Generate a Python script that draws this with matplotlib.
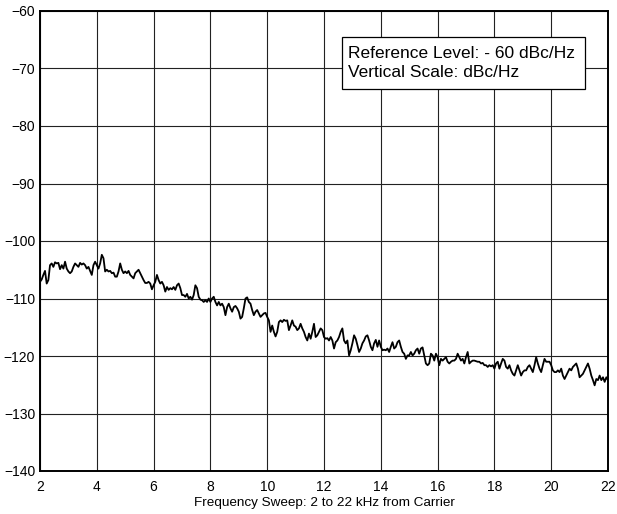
import numpy as np
import matplotlib
matplotlib.use("Agg")
import matplotlib.pyplot as plt
from matplotlib.patches import Rectangle

plt.rcParams['font.family'] = ['Liberation Sans', 'DejaVu Sans']

# Sweep range (kHz) and axis ticks
F_START, F_STOP = 2.0, 22.0
x_ticks = [2, 4, 6, 8, 10, 12, 14, 16, 18, 20, 22]
y_ticks = [-140, -130, -120, -110, -100, -90, -80, -70, -60]

level_seg1 = [
    -107.1, -106.7, -105.9, -105.2, -107.4, -106.8, -104.2, -103.9, -104.5, -103.7,
    -103.9, -103.8, -104.9, -104.2, -104.8, -103.6, -104.8, -105.3, -105.6, -105.3,
    -104.5, -103.9, -104.2, -104.5, -103.8, -104.1, -103.9, -104.2, -104.8, -104.5,
    -105.2, -105.9, -104.2, -103.6, -104.2, -104.8, -103.9, -102.4, -103.0, -105.3,
    -105.0, -105.3, -105.2, -105.6, -105.5, -106.2, -106.2, -105.3, -103.9, -105.0,
    -105.6, -105.3, -105.6, -105.2, -105.9, -106.2, -106.5, -105.6, -105.3, -105.0,
    -105.6, -106.2, -106.8, -107.3, -107.3, -107.1, -107.4, -108.4, -107.7, -107.1,
    -105.9, -106.8, -107.4, -107.1, -107.7, -108.8, -108.0, -108.5, -108.2, -108.4,
    -108.0, -108.5, -107.7, -107.4, -108.2, -109.4, -109.4, -109.7, -109.2, -110.0,
    -109.7, -110.2, -109.4, -107.7, -108.2, -109.7, -110.2, -110.3, -110.6, -110.3,
    -110.6, -110.0, -110.6, -110.0, -109.7, -110.6, -111.2,
]
level_seg2 = [
    -110.6, -111.2, -110.9, -111.5, -112.9, -111.5, -110.9, -111.7, -112.3, -111.5,
    -111.3, -111.7, -112.3, -113.5, -113.2, -111.7, -110.0, -109.8, -110.6, -110.9,
    -112.0, -112.9, -112.3, -112.0, -112.6, -113.2, -112.9, -112.6, -112.5, -113.2,
    -113.8, -115.8, -114.7, -115.8, -116.6, -115.8, -114.1, -113.8, -114.1, -113.7,
    -113.9, -113.8, -115.5, -114.7, -113.8, -114.7, -114.9, -115.5, -115.2, -114.4,
    -115.2, -115.8, -116.7, -117.3, -116.1, -117.0, -115.8, -114.4, -116.7, -116.4,
    -115.8, -115.2, -115.5, -116.7, -117.0, -116.9, -117.3, -116.7, -117.3, -118.7,
    -117.6, -117.3, -116.7, -115.8, -115.2, -117.3, -117.8, -117.3, -119.9, -119.0,
    -117.8, -116.4, -117.0, -118.1, -119.3, -118.7, -117.8, -117.3, -116.6, -116.4,
    -117.3, -118.4, -119.0, -117.8, -117.2, -118.4, -117.3, -118.4, -119.0, -118.9,
    -119.0, -118.7, -119.3, -118.4, -117.6, -118.7, -118.4, -117.6, -117.3, -118.4,
    -119.3, -119.6, -120.5, -119.9, -119.9, -119.3, -119.9, -119.6, -119.0, -118.7,
]
level_seg3 = [
    -119.6, -118.7, -118.5, -119.9, -121.3, -121.6, -121.3, -119.6, -119.9, -120.8,
    -119.6, -120.2, -121.6, -120.5, -120.8, -120.5, -120.2, -121.0, -121.3, -121.0,
    -120.8, -120.8, -120.5, -119.6, -120.2, -120.8, -120.5, -121.3, -120.2, -119.3,
    -121.3, -121.0, -120.8, -120.8, -120.9, -121.0, -121.0, -121.3, -121.2, -121.6,
    -121.6, -121.9, -121.6, -121.8, -121.6, -122.2, -121.3, -121.0, -122.2, -121.3,
    -120.5, -120.8, -121.9, -122.2, -121.6, -122.5, -123.1, -123.4, -122.5, -121.6,
    -122.5, -123.4, -122.8, -122.5, -122.5, -121.9, -121.6, -122.2, -122.8, -121.6,
    -120.2, -121.3, -122.2, -122.8, -121.6, -120.5, -121.0, -121.0, -121.0, -121.6,
    -122.5, -122.8, -122.8, -122.5, -122.8, -122.2, -123.4, -124.0, -123.4, -122.8,
    -122.2, -122.5, -121.9, -121.6, -121.3, -122.2, -123.7, -123.4, -123.1, -122.5,
    -121.9, -121.3, -122.2, -123.4, -124.2, -125.1, -124.0, -124.2, -123.4, -124.2,
    -123.7, -124.5, -123.7, -124.2,
]

box_lines = ["Reference Level: - 60 dBc/Hz", "Vertical Scale: dBc/Hz"]
x_label = "Frequency Sweep: 2 to 22 kHz from Carrier"

level = np.array(level_seg1 + level_seg2 + level_seg3)
freq = np.linspace(F_START, F_STOP, len(level))

W, H = 617, 514
fig = plt.figure(figsize=(W / 100, H / 100), dpi=100)
ax = fig.add_axes([40 / W, 1 - 471 / H, 568 / W, 460 / H])

ax.set_xlim(F_START, F_STOP)
ax.set_ylim(-140, -60)
ax.set_xticks(x_ticks)
ax.set_yticks(y_ticks)
ax.grid(True, color='#222222', linewidth=0.8)
ax.set_axisbelow(True)
ax.tick_params(length=0, labelsize=10)
ax.tick_params(axis='x', pad=6.6)
ax.tick_params(axis='y', pad=3.5)
for s in ax.spines.values():
    s.set_linewidth(1.4)
    s.set_color('black')

ax.plot(freq, level, color='black', linewidth=1.3, zorder=3)

# annotation box
x0 = (341.7 - 40) / 568
x1 = (585 - 40) / 568
y_top = 1 - (36.7 - 11) / 460
y_bot = 1 - (89.3 - 11) / 460
ax.add_patch(Rectangle((x0, y_bot), x1 - x0, y_top - y_bot, transform=ax.transAxes,
                       facecolor='white', edgecolor='black', linewidth=0.9, zorder=4))
ax.text((348 - 40) / 568, 1 - (53.3 - 11) / 460, box_lines[0], transform=ax.transAxes,
        fontsize=12.5, va='center', ha='left', zorder=5)
ax.text((348 - 40) / 568, 1 - (72.7 - 11) / 460, box_lines[1], transform=ax.transAxes,
        fontsize=12.5, va='center', ha='left', zorder=5)

fig.text(324 / W, 1 - 502.7 / H, x_label, ha='center', va='center', fontsize=9.7)

fig.savefig("out.png", dpi=100)
